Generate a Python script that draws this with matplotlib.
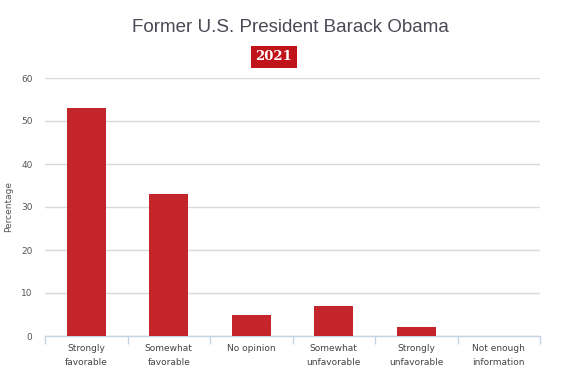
import matplotlib
matplotlib.use("Agg")
import matplotlib.pyplot as plt
import numpy as np

categories = ["Strongly\nfavorable", "Somewhat\nfavorable", "No opinion",
              "Somewhat\nunfavorable", "Strongly\nunfavorable", "Not enough\ninformation"]
values = [53, 33, 5, 7, 2, 0]
yticks = [0, 10, 20, 30, 40, 50, 60]
title = "Former U.S. President Barack Obama"
badge = "2021"

fig = plt.figure(figsize=(5.82, 3.92), dpi=100)
ax = fig.add_axes([45/582, (392-336)/392, (540-45)/582, (336-78)/392])

x = np.arange(len(categories))
ax.bar(x, values, width=0.47, color="#c4252a", zorder=3)
ax.set_xlim(-0.5, len(categories) - 0.5)
ax.set_ylim(0, 60)
ax.set_yticks(yticks)
ax.set_yticklabels([str(t) for t in yticks], fontsize=6.5, color="#555555")
ax.tick_params(axis="y", length=0, pad=9)
ax.grid(axis="y", color="#d9d9d9", linewidth=1, zorder=0)
for s in ["top", "right", "left"]:
    ax.spines[s].set_visible(False)
ax.spines["bottom"].set_color("#c5d3e3")
ax.spines["bottom"].set_linewidth(1)

ax.set_xticks(x)
ax.set_xticklabels(categories, fontsize=6.5, color="#444444", linespacing=1.6)
ax.tick_params(axis="x", length=0, pad=6)
ax.set_xticks(np.arange(-0.5, len(categories)), minor=True)
ax.tick_params(axis="x", which="minor", length=6, color="#c5d3e3", width=1)

ax.set_ylabel("Percentage", fontsize=6.5, color="#555555")
ax.yaxis.set_label_coords(-0.065, 0.5)

fig.text(290/582, (392-28)/392, title, ha="center", va="center",
         fontsize=13.5, color="#4a4a56", family="Liberation Sans")
fig.text(274/582, (392-57)/392, badge, ha="center", va="center",
         fontsize=9.5, color="white", fontweight="bold", family="DejaVu Serif",
         bbox=dict(boxstyle="square,pad=0.35", facecolor="#c0141a", edgecolor="none"))

fig.savefig("out.png", dpi=100)
